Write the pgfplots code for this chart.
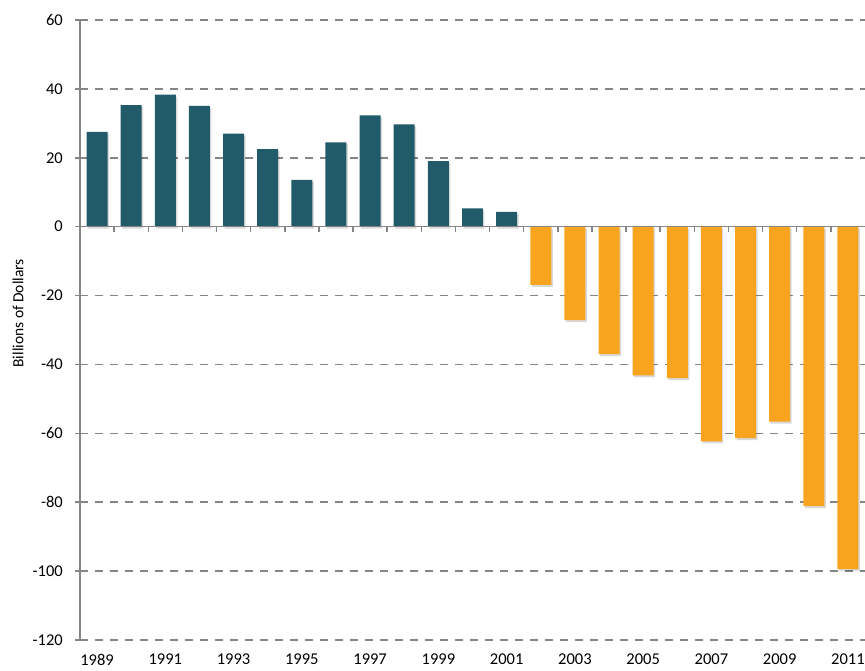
\documentclass[border=0pt]{standalone}
\usepackage{pgfplots}
\pgfplotsset{compat=1.18}
\usepackage{fontspec}
\setmainfont{Carlito}
\usetikzlibrary{shadows}
\definecolor{barteal}{HTML}{215A69}
\definecolor{barorange}{HTML}{F9A41E}
\definecolor{axgray}{HTML}{858585}
\begin{document}
\begin{tikzpicture}
\begin{axis}[
  name=main,
  scale only axis, width=785pt, height=620pt,
  xmin=1988.5, xmax=2011.5, ymin=-120, ymax=60,
  axis y line=left, axis x line=bottom,
  axis line style={-},
  x axis line style={draw=none},
  y axis line style={axgray, line width=1.5pt},
  ytick={-120,-100,...,60},
  xtick={1989,1991,...,2011},
  xticklabels={1989,1991,1993,1995,1997,1999,2001,2003,2005,2007,2009,2011},
  major x tick style={draw=none},
  major y tick style={axgray, line width=1.5pt},
  tick align=outside, major tick length=5pt,
  ymajorgrids,
  grid style={axgray, line width=1.5pt, dash pattern=on 8pt off 7pt},
  major grid style={axgray, line width=1.5pt, dash pattern=on 8pt off 7pt},
  /pgf/number format/assume math mode=true,
  tick label style={font=\fontsize{16.5}{19}\selectfont, black},
  yticklabel style={inner sep=0pt, anchor=east, xshift=-12pt},
  xticklabel style={inner sep=0pt, anchor=north, yshift=-9pt},
  every axis y label/.style={at={(axis description cs:-0.079,0.527)}, rotate=90, anchor=center, font=\fontsize{15.5}{18}\selectfont},
  ylabel={Billions of Dollars},
  clip=false,
]
\addplot[ybar, bar shift=0pt, bar width=0.615, fill=barteal, draw=none,
  drop shadow={shadow xshift=1.5pt, shadow yshift=-2pt, fill=black, opacity=0.15}]
coordinates {
(1989,27.5) (1990,35.3) (1991,38.3) (1992,35.1) (1993,27.0) (1994,22.5)
(1995,13.6) (1996,24.5) (1997,32.3) (1998,29.7) (1999,19.0) (2000,5.3) (2001,4.3)
};
\addplot[ybar, bar shift=0pt, bar width=0.615, fill=barorange, draw=none,
  drop shadow={shadow xshift=1.5pt, shadow yshift=-2pt, fill=black, opacity=0.15}]
coordinates {
(2002,-16.9) (2003,-27.1) (2004,-37.0) (2005,-43.2) (2006,-44.0) (2007,-62.3)
(2008,-61.4) (2009,-56.6) (2010,-81.1) (2011,-99.4)
};
\end{axis}
\begin{axis}[
  scale only axis, width=785pt, height=620pt,
  xmin=1988.5, xmax=2011.5, ymin=-120, ymax=60,
  axis x line=middle, axis y line=none,
  axis line style={-, axgray, line width=1.5pt},
  xtick={1989.5,1990.5,...,2010.5},
  xticklabels={},
  tick align=outside, major tick length=5pt,
  major tick style={axgray, line width=1.5pt},
]
\end{axis}
\pgfresetboundingbox
\path[use as bounding box] ([shift={(-80pt,-30pt)}]main.south west) rectangle ([shift={(0pt,20pt)}]main.north east);
\end{tikzpicture}
\end{document}
